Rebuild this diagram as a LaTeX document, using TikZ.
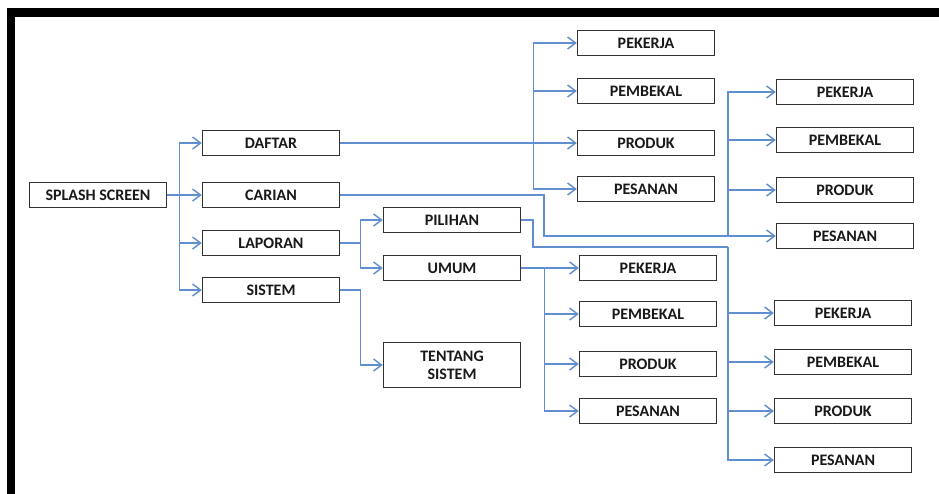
\documentclass[tikz,border=0pt]{standalone}
\usepackage{fontspec}
\setmainfont{Carlito}
\usetikzlibrary{positioning,arrows.meta}
\definecolor{linkblue}{RGB}{96,142,206}
\definecolor{boxgray}{RGB}{50,50,50}

\begin{document}
\begin{tikzpicture}[x=1pt,y=-1pt,
  boxbase/.style={draw=boxgray,fill=white,line width=1.5pt,minimum width=137pt,minimum height=25pt,inner sep=0pt,font=\bfseries\fontsize{16}{18}\selectfont,text=black!90},
  box/.style={boxbase,text height=10.3pt,text depth=0pt},
  link/.style={draw=linkblue,line width=1.4pt},
  arr/.style={link,-{Straight Barb[length=8pt,width=12pt,line width=1.4pt]}}]
\clip (0,0) rectangle (939,493);
\fill[white] (0,0) rectangle (939,493);
\draw[line width=8.4pt] (11,12.5) rectangle (990,540);

\node[box] (splash) at (98,195) {SPLASH SCREEN};
\node[box] (daftar) at (271,143) {DAFTAR};
\node[box] (carian) at (271,195) {CARIAN};
\node[box] (laporan) at (271,243) {LAPORAN};
\node[box] (sistem) at (271,290) {SISTEM};
\node[box] (pilihan) at (452,220) {PILIHAN};
\node[box] (umum) at (452,268) {UMUM};
\node[boxbase,minimum height=45pt,align=center] (tentang) at (452,365) {TENTANG\\SISTEM};

\foreach \id/\txt/\y in {pek/PEKERJA/43,pem/PEMBEKAL/91,pro/PRODUK/143,pes/PESANAN/189}
  \node[box] (d\id) at (646,\y) {\txt};
\foreach \id/\txt/\y in {pek/PEKERJA/92,pem/PEMBEKAL/140,pro/PRODUK/190,pes/PESANAN/236}
  \node[box] (c\id) at (845,\y) {\txt};
\foreach \id/\txt/\y in {pek/PEKERJA/268,pem/PEMBEKAL/314,pro/PRODUK/364,pes/PESANAN/411}
  \node[box] (u\id) at (648,\y) {\txt};
\foreach \id/\txt/\y in {pek/PEKERJA/313,pem/PEMBEKAL/362,pro/PRODUK/411,pes/PESANAN/460}
  \node[box] (p\id) at (843,\y) {\txt};

\foreach \n in {daftar,carian,laporan,sistem}
  \draw[arr] (splash.east) -- ++(12,0) |- (\n.west);
\foreach \n in {dpek,dpem,dpro,dpes}
  \draw[arr] (daftar.east) -- ++(193,0) |- (\n.west);
\foreach \n in {pilihan,umum}
  \draw[arr] (laporan.east) -- ++(20,0) |- (\n.west);
\draw[arr] (sistem.east) -- ++(20,0) |- (tentang.west);
\foreach \n in {upek,upem,upro,upes}
  \draw[arr] (umum.east) -- ++(23,0) |- (\n.west);

\coordinate (cbend) at (544,236);
\coordinate (cjoin) at (728,236);
\draw[arr] (carian.east) -| (cbend) -- (cpes.west);
\foreach \n in {cpek,cpem,cpro}
  \draw[arr] (cjoin) |- (\n.west);

\coordinate (pbend) at (533,247);
\coordinate (pjoin) at (728,247);
\draw[link] (pilihan.east) -| (pbend) -- (pjoin);
\foreach \n in {ppek,ppem,ppro,ppes}
  \draw[arr] (pjoin) |- (\n.west);
\end{tikzpicture}
\end{document}
